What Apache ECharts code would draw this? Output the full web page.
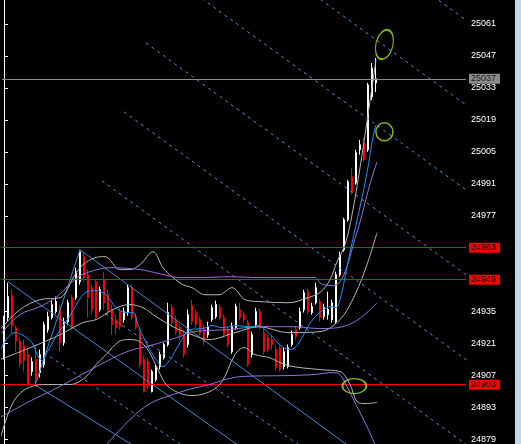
<!DOCTYPE html>
<html><head><meta charset="utf-8">
<script src="https://cdn.jsdelivr.net/npm/echarts@6/dist/echarts.min.js"></script>
<style>html,body{margin:0;padding:0;background:#000;overflow:hidden}#c{width:521px;height:444px}</style>
</head><body><div id="c"></div><script>
// ---- candle data (price units) ----
const opens = [24916.2,24932.4,24942,24928,24921.9,24920.1,24916.2,24908.75,24914,24908.3,24911.8,24927.1,24932.4,24935,24936.75,24921.4,24930.6,24941.1,24941.1,24948.1,24959.1,24951.2,24945.5,24948.1,24935.9,24949,24942.4,24935.9,24931.5,24935,24931.5,24934.6,24945.5,24932.8,24925.8,24914,24913.1,24900,24905.25,24910.9,24914.9,24920.6,24936.75,24931.5,24928,24924.9,24920.6,24937.6,24934.6,24931.5,24928,24924.9,24931.5,24932.8,24936.75,24932.4,24927.1,24917.5,24928,24935.9,24933.7,24930.2,24916.2,24929.3,24935,24925.8,24923.6,24922.75,24918.4,24919.25,24910.9,24910.9,24920.6,24927.1,24928,24935.9,24943.75,24934.6,24938.9,24939.4,24932.8,24933.7,24931.5,24930.6,24951.2,24962.1,24975.25,24994.1,24991.4,25005.9,25008.9,25005.9,25029.1,25035.2];
const closes = [24931.5,24941.6,24928.9,24921.9,24912.25,24913.6,24903.1,24913.1,24904.4,24916.2,24929.3,24932.8,24938.1,24939.4,24921.4,24930.6,24938.9,24928.4,24952.5,24961.25,24949.9,24941.1,24935.9,24932.4,24944.6,24938.9,24935,24929.3,24928,24928.4,24935,24945.5,24932.4,24928,24911.8,24900,24902.2,24908.75,24910.5,24916.2,24920.6,24934.6,24930.2,24926.25,24924.9,24916.2,24933.7,24930.6,24929.3,24925.8,24921.9,24928.4,24936.75,24938.1,24932.4,24924.9,24920.6,24928.4,24937.2,24932.4,24931.5,24911.8,24924.9,24935,24928,24917.5,24918.4,24920.6,24910.5,24909.6,24917.5,24919.25,24924.9,24924.1,24935,24943.3,24935,24937.2,24945.5,24932.4,24936.75,24935.9,24938.9,24951.2,24959.9,24975.25,24991.9,24987.1,25004.6,25008.1,25001.5,25034.3,25041.75,25037];
const lows = [24914,24930.6,24925.4,24917.5,24910.5,24908.75,24902.2,24907,24902.6,24906.1,24910.5,24925.8,24931.5,24934.1,24917.5,24920.1,24929.3,24927.1,24940.25,24946.8,24948.1,24932.4,24933.7,24931.5,24935,24935.9,24933.25,24924.9,24924.9,24927.1,24930.2,24933.25,24931.5,24927.1,24910.5,24899.6,24900.9,24899.6,24904.4,24909.6,24914,24919.7,24928.9,24924.9,24922.75,24914.9,24919.25,24929.3,24928,24924.5,24920.1,24923.6,24930.6,24931.9,24931.1,24923.6,24919.25,24916.6,24927.1,24931.1,24930.2,24910.9,24914.9,24928,24927.1,24916.2,24917.1,24918.4,24909.2,24908.75,24909.6,24910.1,24919.7,24922.75,24927.1,24934.6,24933.7,24933.7,24938.1,24930.6,24931.5,24931.5,24930.2,24929.75,24950.3,24961.25,24974.4,24986.2,24990.6,25003.7,25000.6,25005,25027.75,25031.25];
const highs = [24933.25,24947.7,24944.6,24928.9,24923.6,24922.75,24918.4,24914.9,24920.6,24918.4,24930.6,24935,24940.25,24941.6,24938.1,24932.4,24940.25,24942.4,24954.25,24962.1,24961.25,24953.4,24946.8,24949,24945.9,24952.5,24944.6,24938.1,24933.7,24936.75,24936.75,24946.8,24946.8,24934.1,24927.1,24915.75,24914.9,24909.6,24911.8,24917.5,24921.4,24938.9,24938.1,24933.25,24929.3,24927.1,24935.9,24940.25,24935.9,24932.8,24929.3,24930.6,24938.1,24939.8,24938.1,24933.7,24928.4,24930.2,24938.5,24938.9,24935,24931.5,24926.25,24936.75,24936.3,24927.1,24924.9,24924.5,24920.1,24920.6,24919.25,24920.6,24926.7,24928.9,24936.75,24944.6,24945.1,24938.9,24947.7,24940.7,24938.5,24943.75,24940.25,24952.5,24961.25,24976.1,24992.75,24998,25005.9,25010.25,25011.1,25035.2,25043.9,25046.1];

// ---- axis ----
const yTicks = [24879,24893,24907,24921,24935,24949,24963,24977,24991,25005,25019,25033,25047,25061];
const yLabelValues = [24879,24893,24907,24921,24935,24977,24991,25005,25019,25033,25047,25061];
const yMin = 24877.25, yMax = 25071.5;
const slotCount = 116;

// ---- horizontal levels ----
const redLevels = [24963, 24949, 24903];
const bidLevel = 25037;

// ---- indicator lines: [bar index, price] ----
const maBlue = [[-1,24917.9],[0.75,24923.2],[2.75,24925.8],[4.5,24924.9],[7,24921.4],[8.5,24915.3],[9.5,24913.6],[10.75,24917.1],[13,24924.1],[15,24929.3],[17,24934.6],[19,24940.7],[20.75,24943.75],[23,24944.2],[25.5,24942.4],[28,24936.75],[30.5,24934.6],[32.25,24934.6],[33.5,24929.3],[35.5,24921.4],[38,24914],[39.75,24910.9],[41.5,24914],[44,24921.4],[46.5,24927.1],[49.75,24927.6],[52,24928.9],[54.5,24928],[58.25,24928.9],[61.5,24928.4],[63.5,24928.9],[65.5,24926.7],[67.5,24923.2],[69.5,24919.7],[71.5,24918.4],[73,24919.7],[74.5,24923.6],[76.75,24930.6],[79.25,24935],[81.75,24937.2],[83,24936.75],[84.25,24942],[85.5,24952.5],[86.75,24963],[89,24980.9],[90.75,24995.8],[92.25,25011.6],[93,25016.8]];
const grayUpper = [[-1,24927.1],[4,24935.9],[9,24940.25],[14,24941.1],[17.75,24951.2],[19.75,24955.6],[22.75,24958.6],[25.25,24959.1],[29,24953.4],[31.5,24953.4],[34,24955.6],[37.25,24961.25],[39.75,24954.25],[42.25,24949.9],[44.75,24946.8],[47,24945.5],[50.25,24942.4],[53.75,24942.4],[57,24945.5],[60.25,24940.25],[64,24939.4],[71,24938.9],[76,24941.1],[79.25,24943.75],[81.5,24949],[83.25,24956.9],[85.25,24964.3],[87,24977.4],[89,24998],[91,25021.2],[93,25045.25]];
const grayMid = [[-1,24914],[7.25,24919.7],[14,24924.9],[19.75,24930.2],[23,24931.5],[27.25,24935.9],[31.25,24938.1],[34.75,24936.75],[38,24932.8],[42.75,24928],[47,24924.9],[51.25,24922.75],[57.75,24925.8],[63.75,24928.4],[71,24925.8],[79,24926.25],[84,24931.5],[87.75,24942.4],[91,24956.9],[93.25,24969.6]];
const grayLower = [[-1,24879],[2,24894.3],[5.25,24900.9],[10.25,24903.1],[16.5,24903.1],[20.25,24906.1],[23,24911.8],[25.5,24916.2],[28.75,24921.9],[31.25,24922.75],[34,24921.9],[36.25,24917.5],[38.5,24909.6],[40.5,24903.1],[43.5,24899.6],[47,24898.25],[51.5,24900],[54.5,24904.4],[57.75,24916.2],[60,24919.25],[62.75,24916.2],[66.25,24914.9],[71,24911.4],[79,24909.6],[84,24908.75],[86.5,24903.1],[88.25,24895.6],[90.25,24894.75],[93.25,24895.2]];
const purpleUpper = [[-1,24924.9],[4,24933.7],[9,24937.2],[13.25,24941.6],[18.25,24949.9],[21.5,24952.5],[26.5,24954.25],[34,24953.4],[39,24951.6],[44,24949.9],[49,24949.9],[56.5,24950.3],[64,24949.9],[71,24949.9],[77.75,24949.9],[79.25,24947.25],[82.25,24946.4],[84,24948.1],[85.75,24954.7],[87.25,24963.9],[89.5,24977.4],[91.5,24991],[93.25,25000.6]];
const purpleMid = [[-1,24888.6],[7.25,24896.5],[11.5,24900],[15.75,24903.9],[22.25,24910.1],[30.75,24917.5],[36.5,24920.1],[44,24924.1],[47.25,24926.25],[55.75,24927.1],[64,24928.4],[72.25,24928.4],[79,24927.6],[83.5,24928],[87.25,24930.2],[90.75,24934.6],[93.25,24938.9]];
const purpleLower = [[22.75,24871.1],[31.5,24887.75],[36.5,24894.75],[41.5,24898.25],[47,24901.3],[51.5,24903.1],[55.25,24905.25],[59.5,24906.6],[71,24907],[77.25,24907.4],[82.25,24908.3],[84,24907.4],[85.75,24902.2],[88.25,24893.4],[90.75,24884.7],[93.25,24874.6]];

// ---- trend lines (solid) and channel rays (dashed): [start, end] ----
const trendLines = [
  [[19,24962.1],[87,24875.1]],
  [[1,24948.1],[59,24875.9]],
  [[7.75,24902.6],[19,24962.1]],
  [[8,24902.6],[32.75,24875.9]]
];
const rays = [
  [[52,25143.25],[116.5,25061.4]],
  [[46.5,25113.1],[116.5,25024.3]],
  [[41,25082.9],[116.5,24987.1]],
  [[35.5,25052.7],[116.5,24949.9]],
  [[30,25022.5],[116.5,24912.7]],
  [[24.5,24992.3],[116.5,24875.6]],
  [[11.5,24915.3],[45.25,24875.5]],
  [[25.25,24934.1],[74,24876.4]]
];
// ---- ellipse marks: [bar index, price, width, height, rotation] ----
const ellipses = [[95.1,25052,17,30,-14],[95.1,25013.75,17,18,0],[87.6,24902.4,24,15,0]];

const chart = echarts.init(document.getElementById('c'), null, {renderer:'canvas'});
const cats = Array.from({length: slotCount}, (_, i) => String(i));
const candleData = opens.map((o, i) => [o, closes[i], lows[i], highs[i]]);

function lineSeries(data, color, extra) {
  return Object.assign({
    type:'line', xAxisIndex:1, yAxisIndex:0, data, symbol:'none', smooth:0.35,
    silent:true, z:5, lineStyle:{color, width:1}
  }, extra || {});
}
const lblBase = {show:true, position:'end', distance:3, fontFamily:'Liberation Sans', fontSize:9,
  lineHeight:10, padding:[0,4,0,2], formatter: p => String(p.value)};

const series = [
  {
    type:'candlestick', data:candleData, barWidth:2, z:3, silent:true,
    itemStyle:{color:'#ffffff', color0:'#ff0000', borderColor:'#ffffff', borderColor0:'#ff0000', borderWidth:1},
    markLine:{
      symbol:'none', silent:true, animation:false,
      data:[
        {yAxis:bidLevel, lineStyle:{color:'#8c8c8c', width:1, type:'solid'},
          label:Object.assign({}, lblBase, {backgroundColor:'#8c8c8c', color:'#1a1a1a'})},
        ...redLevels.map(v => ({yAxis:v, lineStyle:{color:'#ff0000', width:1, type:'solid'},
          label:Object.assign({}, lblBase, {backgroundColor:'#ff0000', color:'#000000'})}))
      ]
    }
  },
  lineSeries(grayUpper, '#b4b4b4'),
  lineSeries(grayMid, '#b4b4b4'),
  lineSeries(grayLower, '#b4b4b4'),
  lineSeries(purpleUpper, '#9370db'),
  lineSeries(purpleMid, '#9370db'),
  lineSeries(purpleLower, '#9370db'),
  ...trendLines.map(d => lineSeries(d, '#3f8ad6', {smooth:false, z:4})),
  ...rays.map(d => lineSeries(d, '#4a94dc', {smooth:false, z:4, lineStyle:{color:'#4a94dc', width:1, type:[3,4]}})),
  lineSeries(maBlue, '#1e90ff', {z:6}),
  {
    type:'scatter', xAxisIndex:1, yAxisIndex:0, silent:true, z:7,
    data: ellipses.map(e => ({value:[e[0], e[1]], symbolSize:[e[2], e[3]], symbolRotate:e[4]})),
    symbol:'circle',
    itemStyle:{color:'rgba(0,0,0,0)', borderColor:'#a2e626', borderWidth:1.5}
  }
];

chart.setOption({
  animation:false,
  backgroundColor:'#000000',
  grid:{left:2, right:55, top:0, bottom:0, containLabel:false},
  xAxis:[
    {type:'category', data:cats, show:false, boundaryGap:true},
    {type:'value', min:-0.5, max:slotCount - 0.5, show:false}
  ],
  yAxis:{
    type:'value', position:'right', min:yMin, max:yMax, scale:true,
    axisLine:{show:true, lineStyle:{color:'#ffffff', width:1}},
    axisTick:{show:true, length:4, inside:false, customValues:yTicks, lineStyle:{color:'#ffffff'}},
    axisLabel:{show:true, customValues:yLabelValues, color:'#ffffff', fontFamily:'Liberation Sans', fontSize:9, margin:5,
      formatter: v => String(v)},
    splitLine:{show:false}
  },
  graphic:[{type:'rect', right:0, top:0, shape:{width:6, height:444}, style:{fill:'#c4d5ea'}, silent:true}],
  series
});
</script></body></html>
